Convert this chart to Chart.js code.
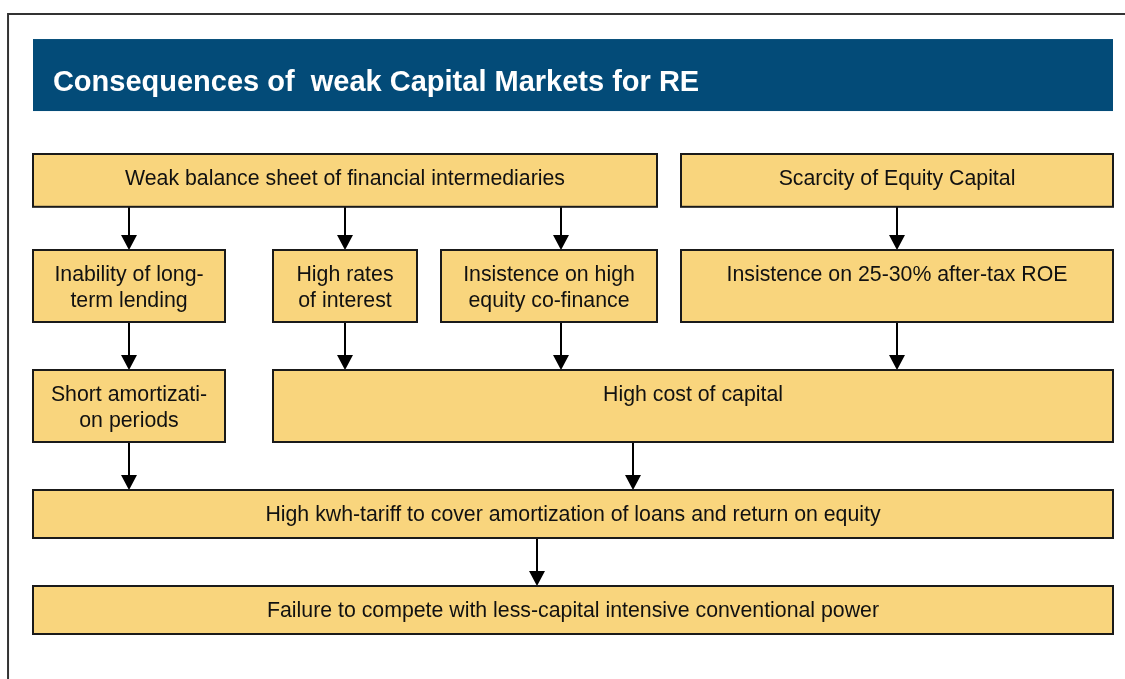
<!DOCTYPE html>
<html>
<head>
<meta charset="utf-8">
<title>Consequences of weak Capital Markets for RE</title>
<script src="https://cdn.jsdelivr.net/npm/chart.js@4"></script>
<style>
  html, body { margin: 0; padding: 0; background: #fff; }
  canvas { display: block; }
</style>
</head>
<body>
<canvas id="chart" width="1125" height="679"></canvas>
<script>
'use strict';

// Diagram content, laid out on a grid of 24px units
const title = 'Consequences of  weak Capital Markets for RE';

const boxLabels = [
    ['Weak balance sheet of financial intermediaries'],
    ['Scarcity of Equity Capital'],
    ['Inability of long-', 'term lending'],
    ['High rates', 'of interest'],
    ['Insistence on high', 'equity co-finance'],
    ['Insistence on 25-30% after-tax ROE'],
    ['Short amortizati-', 'on periods'],
    ['High cost of capital'],
    ['High kwh-tariff to cover amortization of loans and return on equity'],
    ['Failure to compete with less-capital intensive conventional power']
];
const boxRow = [0, 0, 1, 1, 1, 1, 2, 2, 3, 4];
const boxStart = [0, 27, 0, 10, 17, 27, 0, 10, 0, 0];
const boxEnd = [26, 45, 8, 16, 26, 45, 8, 45, 45, 45];

const rowTop = [0, 4, 9, 14, 18];
const rowBottom = [2.2, 7, 12, 16, 20];

const arrowCol = [4, 13, 22, 36, 4, 13, 22, 36, 4, 25, 21];
const arrowFrom = [0, 0, 0, 0, 1, 1, 1, 1, 2, 2, 3];
const arrowTo = [1, 1, 1, 1, 2, 2, 2, 2, 3, 3, 4];

const FONT = '"Liberation Sans", Arial, Helvetica, sans-serif';

const flowPlugin = {
    id: 'flow',
    beforeDatasetsDraw(chart) {
        const ctx = chart.ctx;
        const x = chart.scales.x;
        const y = chart.scales.y;
        const px = v => x.getPixelForValue(v);
        const py = v => y.getPixelForValue(v);

        ctx.save();

        // outer frame (left and top edges)
        ctx.strokeStyle = '#333';
        ctx.lineWidth = 2;
        ctx.beginPath();
        ctx.moveTo(px(-1.04), chart.height);
        ctx.lineTo(px(-1.04), py(-5.83));
        ctx.lineTo(chart.width, py(-5.83));
        ctx.stroke();

        // title band
        ctx.fillStyle = '#034B78';
        ctx.fillRect(px(0), py(-4.79), px(45) - px(0), py(-1.79) - py(-4.79));
        ctx.fillStyle = '#fff';
        ctx.font = 'bold 29px ' + FONT;
        ctx.textBaseline = 'middle';
        ctx.textAlign = 'left';
        ctx.fillText(title, px(0.83), py(-2.95));

        // arrows
        ctx.strokeStyle = '#000';
        ctx.fillStyle = '#000';
        arrowCol.forEach((col, i) => {
            const ax = px(col);
            const y0 = py(rowBottom[arrowFrom[i]]);
            const y1 = py(rowTop[arrowTo[i]]);
            ctx.lineWidth = 2;
            ctx.beginPath();
            ctx.moveTo(ax, y0);
            ctx.lineTo(ax, y1 - 14);
            ctx.stroke();
            ctx.beginPath();
            ctx.moveTo(ax - 8, y1 - 15);
            ctx.lineTo(ax + 8, y1 - 15);
            ctx.lineTo(ax, y1);
            ctx.closePath();
            ctx.fill();
        });

        // boxes
        boxLabels.forEach((lines, i) => {
            const x0 = px(boxStart[i]);
            const x1 = px(boxEnd[i]);
            const y0 = py(rowTop[boxRow[i]]);
            const y1 = py(rowBottom[boxRow[i]]);
            ctx.fillStyle = '#F9D57D';
            ctx.fillRect(x0, y0, x1 - x0, y1 - y0);
            ctx.strokeStyle = '#1a1a1a';
            ctx.lineWidth = 2;
            ctx.strokeRect(x0, y0, x1 - x0, y1 - y0);

            ctx.fillStyle = '#111';
            ctx.font = '21.3px ' + FONT;
            ctx.textAlign = 'center';
            ctx.textBaseline = 'middle';
            lines.forEach((line, j) => {
                ctx.fillText(line, (x0 + x1) / 2, y0 + 25 + j * 26);
            });
        });

        ctx.restore();
    }
};

new Chart(document.getElementById('chart'), {
    type: 'scatter',
    data: {
        datasets: [{ data: [] }]
    },
    options: {
        responsive: false,
        animation: false,
        devicePixelRatio: 1,
        layout: { padding: 0 },
        plugins: {
            legend: { display: false },
            tooltip: { enabled: false }
        },
        scales: {
            x: { type: 'linear', min: -1.375, max: 45.5, display: false },
            y: { type: 'linear', reverse: true, min: -6.4167, max: 21.875, display: false }
        }
    },
    plugins: [flowPlugin]
});
</script>
</body>
</html>
